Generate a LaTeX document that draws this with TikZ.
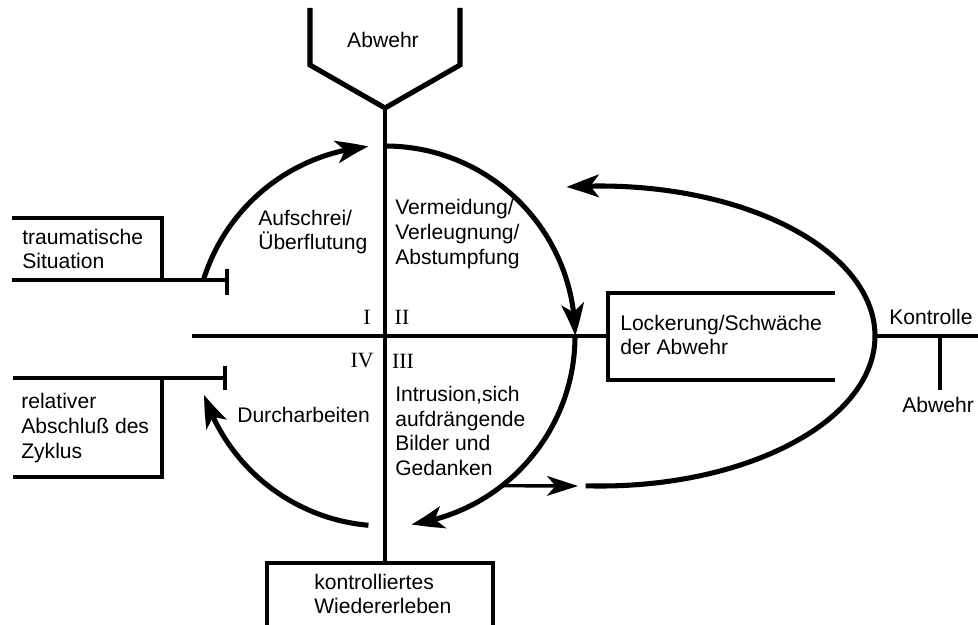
\documentclass[tikz,border=0pt]{standalone}
\usepackage{fontspec}
\setmainfont{Liberation Sans}
\newfontfamily\numfont{Liberation Serif}
\usetikzlibrary{arrows.meta,bending}

\begin{document}
\begin{tikzpicture}[x=0.025cm,y=0.025cm,
    axis/.style={line width=2.2pt},
    rim/.style={line width=2.4pt},
    loop/.style={line width=3.6pt,-{Stealth[length=23pt,width=16pt,inset=6pt,bend]}},
    txt/.style={inner sep=0pt,align=left,anchor=west,font=\fontsize{15}{17.7}\selectfont},
    num/.style={inner sep=0pt,font=\numfont\fontsize{15.5}{18}\selectfont}]
  \useasboundingbox (0,0) rectangle (978,-624);
  \coordinate (m) at (385,-336);
  \coordinate (ec) at (600,-336);
  \coordinate (vtip) at (385,-108);
  \coordinate (bottom) at (385,-563);
  \coordinate (left) at (192,-336);
  \coordinate (lock) at (608,-336);
  \coordinate (eright) at (875,-336);
  \coordinate (rend) at (978,-336);
  \coordinate (tick) at (940,-336);
  \coordinate (tickend) at (940,-390);
  \coordinate (iout) at ([shift={(-52:190)}]m);
  \coordinate (iend) at (578,-486);
  % axes
  \draw[axis] (vtip) -- (bottom);
  \draw[axis] (left) -- (lock);
  \draw[axis] (eright) -- (rend);
  \draw[axis] (tick) -- (tickend);
  % boxes
  \draw[line width=3.6pt,line join=miter] (310,-8) -- (310,-65) -- (vtip) -- (460,-65) -- (460,-8);
  \draw[rim] (12,-218) -- (162,-218) -- (162,-280);
  \draw[rim] (12,-280) -- (227,-280);
  \draw[rim] (227,-269) -- (227,-295);
  \draw[rim] (13,-378) -- (225,-378);
  \draw[rim] (225,-366) -- (225,-390);
  \draw[rim] (162,-378) -- (162,-477) -- (13,-477);
  \draw[rim] (835,-293) -- (608,-293) -- (608,-380) -- (835,-380);
  \draw[rim] (267,-630) -- (267,-563) -- (493,-563) -- (493,-630);
  % cycle
  \draw[loop] ([shift={(163:190)}]m) arc[start angle=163,end angle=95,radius=190];
  \draw[loop] ([shift={(90:190)}]m) arc[start angle=90,end angle=0,radius=190];
  \draw[loop] ([shift={(0:190)}]m) arc[start angle=0,end angle=-82,radius=190];
  \draw[loop] ([shift={(-95:190)}]m) arc[start angle=-95,end angle=-162,radius=190];
  \draw[loop] ([shift={(-93:275 and 150)}]ec) arc[start angle=-93,end angle=97,x radius=275,y radius=150];
  \draw[line width=2.4pt,-{Stealth[length=22pt,width=14pt,inset=6pt]}] (iout) -- (iend);
  % labels
  \node[txt,anchor=center] (abwehrT) at (383,-40) {Abwehr};
  \node[txt] (trauma) at (22,-249) {traumatische\\Situation};
  \node[txt] (abschluss) at (21,-428) {relativer\\Abschluß des\\Zyklus};
  \node[txt] (aufschrei) at (258,-232) {Aufschrei/\\Überflutung};
  \node[txt] (vermeidung) at (395,-234) {Vermeidung/\\Verleugnung/\\Abstumpfung};
  \node[txt] (lockerung) at (620,-335) {Lockerung/Schwäche\\der Abwehr};
  \node[txt] (kontrolle) at (889,-317) {Kontrolle};
  \node[txt] (abwehrR) at (902,-405) {Abwehr};
  \node[txt] (durch) at (237,-415) {Durcharbeiten};
  \node[txt] (intrusion) at (395,-431) {Intrusion,sich\\aufdrängende\\Bilder und\\Gedanken};
  \node[txt] (wieder) at (314,-594) {kontrolliertes\\Wiedererleben};
  \node[num] (q1) at (367,-317) {I};
  \node[num] (q2) at (402,-317) {II};
  \node[num] (q4) at (362,-361) {IV};
  \node[num] (q3) at (403,-361) {III};
\end{tikzpicture}
\end{document}
